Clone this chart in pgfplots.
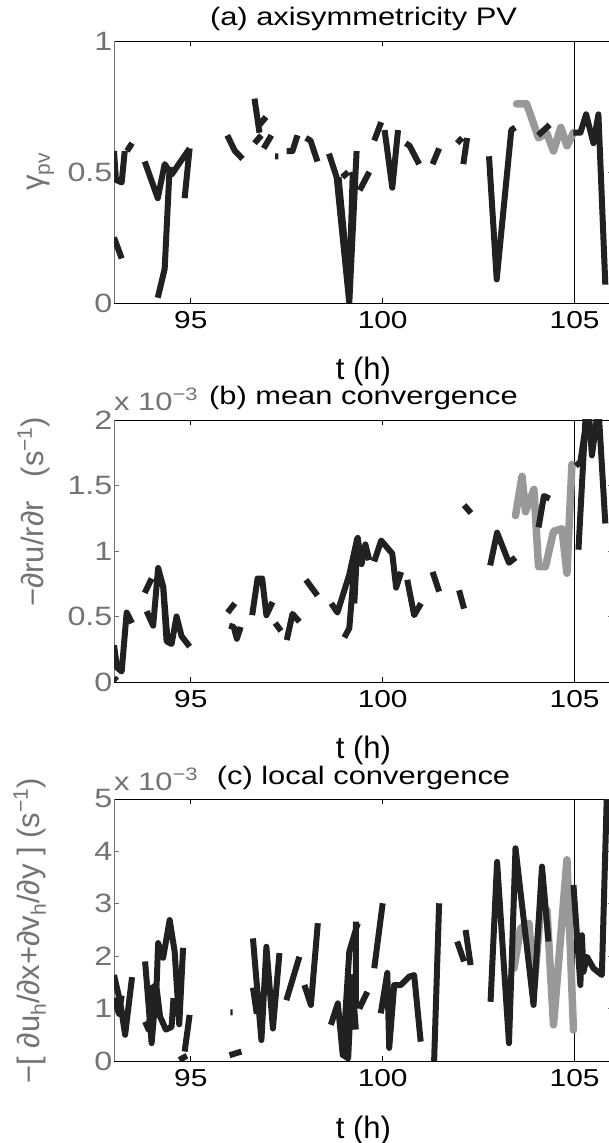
\documentclass[border=0pt]{standalone}
\usepackage{fontspec}
\setmainfont[FakeStretch=1.22]{Liberation Sans}
\newfontfamily\plainf{Liberation Sans}
\usepackage{pgfplots}
\pgfplotsset{compat=1.18}
\definecolor{dk}{gray}{0.13}
\definecolor{gr}{gray}{0.6}
\definecolor{tg}{gray}{0.45}
\newcommand{\tf}{\fontsize{25.3}{25.3}\selectfont}
\newcommand{\xf}{\fontsize{24.5}{24.5}\selectfont}
\newcommand{\yf}{\fontsize{26.5}{26.5}\selectfont}
\newcommand{\lf}{\plainf\fontsize{31}{31}\selectfont}
\newcommand{\sub}[1]{\raisebox{-6pt}{\fontsize{21}{21}\selectfont #1}}
\newcommand{\sups}[1]{\raisebox{12pt}{\fontsize{21}{21}\selectfont #1}}
\newcommand{\expo}[1]{\raisebox{10pt}{\fontsize{18}{18}\selectfont #1}}
\pgfplotsset{
  panel/.style={
    scale only axis, width=499pt, height=262pt,
    xmin=93, xmax=106,
    clip mode=individual,
    xtick={95,100,105}, xticklabels={95,100,105},
    separate axis lines,
    x axis line style={black, line width=0.9pt},
    y axis line style={tg, line width=0.9pt},
    tick align=inside,
    major tick length=5pt,
    xtick style={black, line width=0.8pt},
    ytick style={tg, line width=0.8pt},
    xticklabel style={font=\xf, black, anchor=north, yshift=-5pt},
    yticklabel style={font=\yf, tg, anchor=east, xshift=2pt},
    unbounded coords=jump,
    title style={font=\tf, at={(0.5,1)}, anchor=base, yshift=9pt},
    xlabel={\plainf\fontsize{31}{31}\selectfont t (h)},
    xlabel style={at={(axis description cs:0.5,0)}, anchor=base, yshift=-77pt},
  },
  blk/.style={dk, line width=6pt, line join=round, line cap=butt},
  gry/.style={gr, line width=7.5pt, line join=round, line cap=round},
  zl/.style={tg, line width=0.9pt, dash pattern=on 8pt off 5pt},
  vl/.style={black, line width=1pt},
}
\begin{document}
\begin{tikzpicture}
% ---------------- (a) ----------------
\begin{axis}[panel, at={(114pt,840pt)}, anchor=south west,
  ymin=0, ymax=1, ytick={0,0.5,1}, yticklabels={0,0.5,1},
  title={(a) axisymmetricity PV}]
\addplot[zl] coordinates {(93,0) (106,0)};
\addplot[vl] coordinates {(105,0) (105,1)};
\addplot[gry] table {
103.49 0.76
103.75 0.76
104.06 0.63
104.27 0.65
104.45 0.58
104.64 0.67
104.80 0.60
104.97 0.65
};
\addplot[blk] table {
93.00 0.58
93.05 0.47
93.20 0.46
93.28 0.58
nan nan
93.34 0.58
93.47 0.61
nan nan
93.00 0.25
93.20 0.17
nan nan
93.80 0.54
94.14 0.40
94.32 0.53
94.50 0.49
94.97 0.59
nan nan
94.84 0.40
94.97 0.59
nan nan
94.14 0.02
94.32 0.13
94.45 0.52
nan nan
95.95 0.64
96.15 0.58
96.35 0.55
nan nan
96.66 0.78
96.79 0.65
nan nan
96.79 0.68
96.96 0.71
nan nan
96.66 0.61
96.84 0.64
nan nan
96.90 0.59
97.10 0.64
nan nan
97.20 0.56
97.28 0.56
nan nan
97.50 0.58
97.65 0.58
97.78 0.64
nan nan
98.00 0.63
98.12 0.62
98.30 0.54
nan nan
98.60 0.57
98.80 0.48
99.13 0.00
99.32 0.58
nan nan
98.85 0.48
99.13 0.05
99.22 0.50
nan nan
98.95 0.48
99.10 0.50
nan nan
99.40 0.43
99.65 0.50
nan nan
99.78 0.62
99.96 0.69
nan nan
100.05 0.66
100.25 0.44
100.40 0.66
nan nan
100.60 0.61
100.70 0.60
100.95 0.53
nan nan
101.30 0.53
101.47 0.59
nan nan
101.94 0.61
102.07 0.63
nan nan
102.10 0.53
102.20 0.63
nan nan
102.77 0.56
102.97 0.09
103.35 0.66
103.45 0.67
nan nan
104.05 0.64
104.35 0.68
nan nan
104.97 0.65
105.15 0.65
105.30 0.72
105.49 0.61
105.62 0.72
105.80 0.07
};
\node[rotate=90, anchor=base, tg, font=\lf] at (rel axis cs:-0.1403,0.5) {γ\sub{pv}};
\end{axis}
% ---------------- (b) ----------------
\begin{axis}[panel, at={(114pt,461pt)}, anchor=south west,
  ymin=0, ymax=2, ytick={0,0.5,1,1.5,2}, yticklabels={0,0.5,1,1.5,2},
  title={(b) mean convergence}]
\addplot[zl] coordinates {(93,0) (106,0)};
\addplot[vl] coordinates {(105,0) (105,2)};
\addplot[gry] table {
103.46 1.27
103.63 1.57
103.72 1.30
103.94 1.47
104.06 0.88
104.24 0.88
104.45 1.15
104.67 1.17
104.80 0.83
104.93 1.66
};
\addplot[blk] table {
93.00 0.28
93.08 0.11
93.20 0.08
93.33 0.53
93.47 0.45
nan nan
93.00 0.03
93.08 0.01
nan nan
93.80 0.68
93.98 0.79
nan nan
93.85 0.54
94.02 0.43
94.15 0.87
94.28 0.73
94.37 0.31
94.50 0.29
94.63 0.50
94.76 0.35
94.97 0.27
nan nan
94.28 0.74
94.40 0.30
nan nan
95.96 0.53
96.15 0.60
nan nan
96.00 0.43
96.12 0.42
96.20 0.33
96.30 0.42
nan nan
96.60 0.51
96.74 0.79
96.86 0.79
96.97 0.51
97.13 0.61
nan nan
97.20 0.45
97.35 0.39
nan nan
97.50 0.32
97.65 0.52
97.83 0.46
nan nan
98.00 0.78
98.30 0.66
nan nan
98.66 0.60
98.82 0.53
99.13 0.82
99.34 1.10
nan nan
99.00 0.34
99.13 0.41
99.30 1.02
nan nan
99.26 0.60
99.35 1.10
99.45 0.90
99.55 1.05
99.65 0.93
nan nan
99.78 0.92
99.96 1.08
100.25 0.98
100.35 0.72
100.48 0.84
nan nan
100.64 0.78
100.82 0.51
101.00 0.60
nan nan
101.30 0.84
101.47 0.69
nan nan
101.99 0.70
102.12 0.56
nan nan
102.12 1.35
102.30 1.29
nan nan
102.80 0.89
102.98 1.14
103.29 0.91
103.46 0.95
nan nan
104.06 1.18
104.20 1.42
104.35 1.40
nan nan
105.03 1.65
105.15 1.68
105.36 2.10
105.45 1.73
105.62 2.10
105.80 1.21
nan nan
105.10 1.01
105.30 2.10
};
\node[anchor=base west, tg, font=\tf, inner sep=0pt] at (rel axis cs:0,1) [yshift=9pt] {x 10\expo{−3}};
\node[rotate=90, anchor=base, tg, font=\lf] at (rel axis cs:-0.1403,0.649) {−∂ru/r∂r\hspace{0.5em} (s\sups{−1})};
\end{axis}
% ---------------- (c) ----------------
\begin{axis}[panel, at={(114pt,82pt)}, anchor=south west,
  ymin=0, ymax=5, ytick={0,1,2,3,4,5}, yticklabels={0,1,2,3,4,5},
  title={(c) local convergence}]
\addplot[zl] coordinates {(93,0) (106,0)};
\addplot[vl] coordinates {(105,0) (105,5)};
\addplot[gry] table {
103.42 1.77
103.59 2.53
103.81 2.63
103.94 1.39
104.11 2.85
104.28 2.88
104.45 0.69
104.80 3.84
104.97 0.59
};
\addplot[blk] table {
93.00 1.64
93.16 1.13
93.29 0.50
93.47 1.60
nan nan
93.00 1.20
93.13 0.90
93.20 1.25
nan nan
93.81 1.90
93.98 0.34
94.11 1.45
94.15 2.25
94.28 1.97
94.45 2.69
94.58 2.09
94.70 0.70
94.80 2.16
nan nan
93.81 0.75
93.90 0.60
94.00 1.40
94.10 1.45
94.20 0.85
94.35 0.60
94.50 0.65
94.55 1.20
nan nan
94.70 0.02
94.90 0.10
nan nan
94.84 0.18
94.97 0.88
nan nan
96.03 0.93
96.09 0.93
nan nan
96.01 0.11
96.32 0.18
nan nan
96.62 2.34
96.84 0.40
96.97 2.18
97.14 0.62
97.31 2.06
nan nan
96.62 1.40
96.72 0.90
nan nan
97.49 1.16
97.83 1.99
nan nan
97.96 1.45
98.13 1.07
98.31 2.63
nan nan
98.65 0.69
98.83 1.10
98.96 0.11
99.13 2.09
99.35 2.63
nan nan
99.00 0.10
99.10 0.05
99.20 1.60
99.30 0.60
nan nan
99.30 2.66
99.30 1.00
nan nan
99.39 1.00
99.60 1.32
nan nan
99.78 1.77
100.00 3.01
nan nan
99.95 0.91
100.12 1.68
100.17 0.25
100.30 1.45
100.47 1.45
100.69 1.61
100.82 1.64
100.99 0.37
nan nan
101.34 0.00
101.47 3.01
nan nan
101.94 2.28
102.12 1.90
nan nan
102.16 2.50
102.29 1.83
nan nan
102.81 1.13
102.98 3.80
103.29 0.34
103.46 4.06
103.93 1.07
104.15 3.71
104.32 2.28
nan nan
104.97 3.36
105.15 1.45
105.19 2.40
105.23 1.70
105.32 1.99
105.49 1.77
105.71 1.64
105.84 5.10
};
\node[anchor=base west, tg, font=\tf, inner sep=0pt] at (rel axis cs:0,1) [yshift=9pt] {x 10\expo{−3}};
\node[rotate=90, anchor=base, tg, font=\lf] at (rel axis cs:-0.1483,0.496) {−[ ∂u\sub{h}/∂x+∂v\sub{h}/∂y ] (s\sups{−1})};
\end{axis}
\pgfresetboundingbox
\path[use as bounding box] (0,0) rectangle (609pt,1143pt);
\end{tikzpicture}
\end{document}
